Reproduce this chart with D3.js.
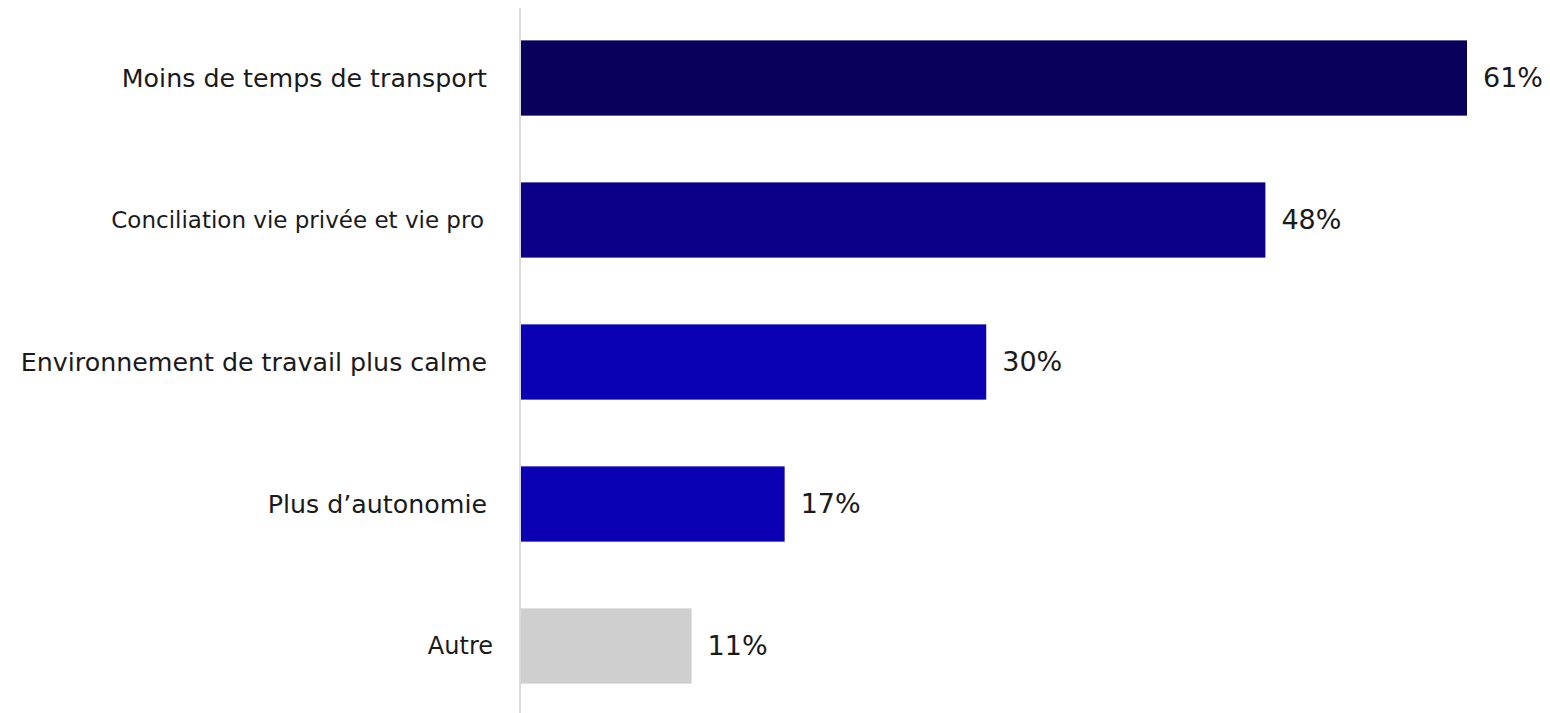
<!DOCTYPE html>
<html>
<head>
<meta charset="utf-8">
<script src="https://cdn.jsdelivr.net/npm/d3@7"></script>
<style>
  html, body { margin: 0; padding: 0; background: #ffffff; }
  svg { display: block; }
</style>
</head>
<body>
<svg id="chart" width="1550" height="713"></svg>
<script>
// Raisons citées (en % des répondants)
const categories = [
  "Moins de temps de transport",
  "Conciliation vie privée et vie pro",
  "Environnement de travail plus calme",
  "Plus d\u2019autonomie",
  "Autre"
];
const values = [61, 48, 30, 17, 11];
const valueLabels = ["61%", "48%", "30%", "17%", "11%"];
const barColors = ["#08005a", "#0a0088", "#0b00b4", "#0b00b4", "#d0cfd0"];
const labelSizes = [25.3, 23, 25.3, 25.3, 24];

const svg = d3.select("#chart");
const axisX = 520;
const fontFamily = "'DejaVu Sans', sans-serif";

const x = d3.scaleLinear().domain([0, 61]).range([axisX + 1, 1467]);
const y = d3.scaleBand().domain(categories).range([7, 717]).paddingInner(0.47).paddingOuter(0.235);

// Bars
svg.selectAll("rect.bar")
  .data(categories)
  .join("rect")
  .attr("class", "bar")
  .attr("x", x(0))
  .attr("y", d => y(d))
  .attr("width", (d, i) => x(values[i]) - x(0))
  .attr("height", y.bandwidth())
  .attr("fill", (d, i) => barColors[i]);

// Vertical category axis line
svg.append("line")
  .attr("x1", axisX).attr("x2", axisX)
  .attr("y1", 8).attr("y2", 713)
  .attr("stroke", "#d9d9d9")
  .attr("stroke-width", 2);

// Category labels
svg.selectAll("text.cat")
  .data(categories)
  .join("text")
  .attr("class", "cat")
  .attr("x", (d, i) => i === 4 ? 493 : (i === 1 ? 484 : 487))
  .attr("y", d => y(d) + y.bandwidth() / 2)
  .attr("dy", "0.35em")
  .attr("text-anchor", "end")
  .attr("font-family", fontFamily)
  .attr("font-size", (d, i) => labelSizes[i])
  .attr("fill", "#1a1a1a")
  .text(d => d);

// Value labels
svg.selectAll("text.val")
  .data(categories)
  .join("text")
  .attr("class", "val")
  .attr("x", (d, i) => x(values[i]) + 16)
  .attr("y", d => y(d) + y.bandwidth() / 2)
  .attr("dy", "0.35em")
  .attr("font-family", fontFamily)
  .attr("font-size", 27)
  .attr("fill", "#1a1a1a")
  .text((d, i) => valueLabels[i]);
</script>
</body>
</html>
